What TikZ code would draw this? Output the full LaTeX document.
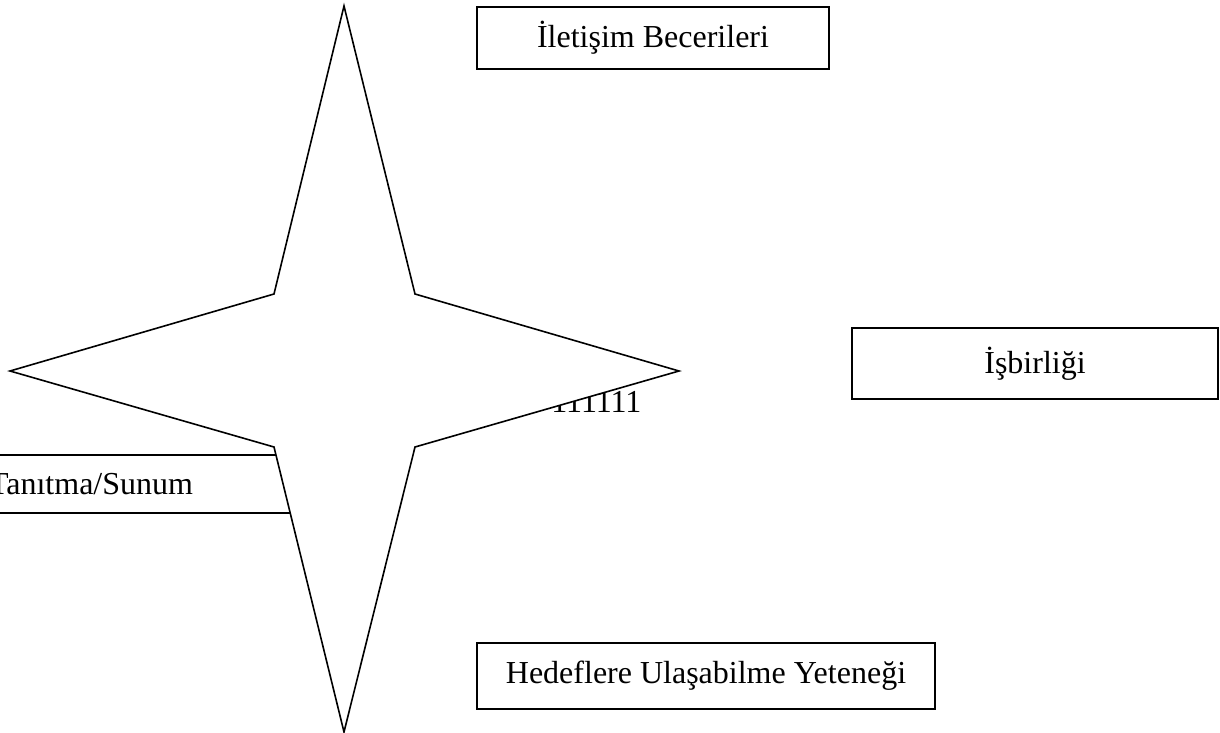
\documentclass[tikz,border=0pt]{standalone}
\usepackage{fontspec}
\setmainfont{Liberation Serif}
\begin{document}
\begin{tikzpicture}[x=0.5pt, y=-0.5pt]
\tikzset{ box/.style={draw, line width=1pt, inner sep=0pt, minimum height=31pt},
          lbl/.style={inner sep=0pt, font=\fontsize{16}{19}\selectfont} }

\clip (0,0) rectangle (1220,733);

%\draw [lightgray, dashed](0,0) grid[step=50] (1220,733);

% under the star
\node [lbl, anchor=base west] (num) at (551,412) {111111};
\node [box, lbl, minimum width=209pt, minimum height=29pt] (tanit) at (91,484) {Tanıtma/Sunum};

% star
\coordinate (N) at (344,6);
\coordinate (E) at (679,371);
\coordinate (S) at (344,732);
\coordinate (W) at (10,371);
\draw [fill=white, line width=0.8pt, line join=miter]
  (N) -- (415,294) -- (E) -- (415,447) -- (S) -- (274,447) -- (W) -- (274,294) -- cycle;

\node [box, lbl, minimum width=176pt] (ilet) at (653,38) {İletişim Becerileri};
\node [box, lbl, minimum width=183pt, minimum height=35.5pt] (isbir) at (1035,363.5) {İşbirliği};
\node [box, lbl, minimum width=229pt, minimum height=33pt] (hedef) at (706,676) {Hedeflere Ulaşabilme Yeteneği};

\end{tikzpicture}
\end{document}
